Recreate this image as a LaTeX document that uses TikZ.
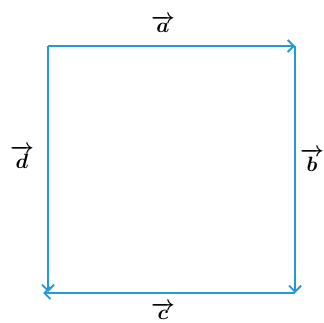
\documentclass[tikz,border=0pt]{standalone}
\usepackage{amsmath,bm}
\usetikzlibrary{arrows.meta}
\definecolor{vecblue}{RGB}{38,152,212}
\begin{document}
\begin{tikzpicture}[x=1pt,y=-1pt,
  vecline/.style={draw=vecblue,line width=2pt,-{Straight Barb[length=6pt,width=12pt,line width=1.8pt]}},
  veclabel/.style={inner sep=0pt,font=\fontsize{21}{21}\selectfont}]
\useasboundingbox (0,0) rectangle (324,323);
\coordinate (tl) at (48,46);
\coordinate (tr) at (295,46);
\coordinate (br) at (295,293);
\coordinate (bl) at (43,293);
\coordinate (dl) at (48,292);
\draw[vecline] (tl) -- (tr);
\draw[vecline] (tr) -- (br);
\draw[vecline] (br) -- (bl);
\draw[vecline] (tl) -- (dl);
\node[veclabel] (la) at (163,24) {$\bm{\overrightarrow{a}}$};
\node[veclabel] (lb) at (312,160) {$\bm{\overrightarrow{b}}$};
\node[veclabel] (lc) at (163,311) {$\bm{\overrightarrow{c}}$};
\node[veclabel] (ld) at (22,157) {$\bm{\overrightarrow{d}}$};
\end{tikzpicture}
\end{document}
